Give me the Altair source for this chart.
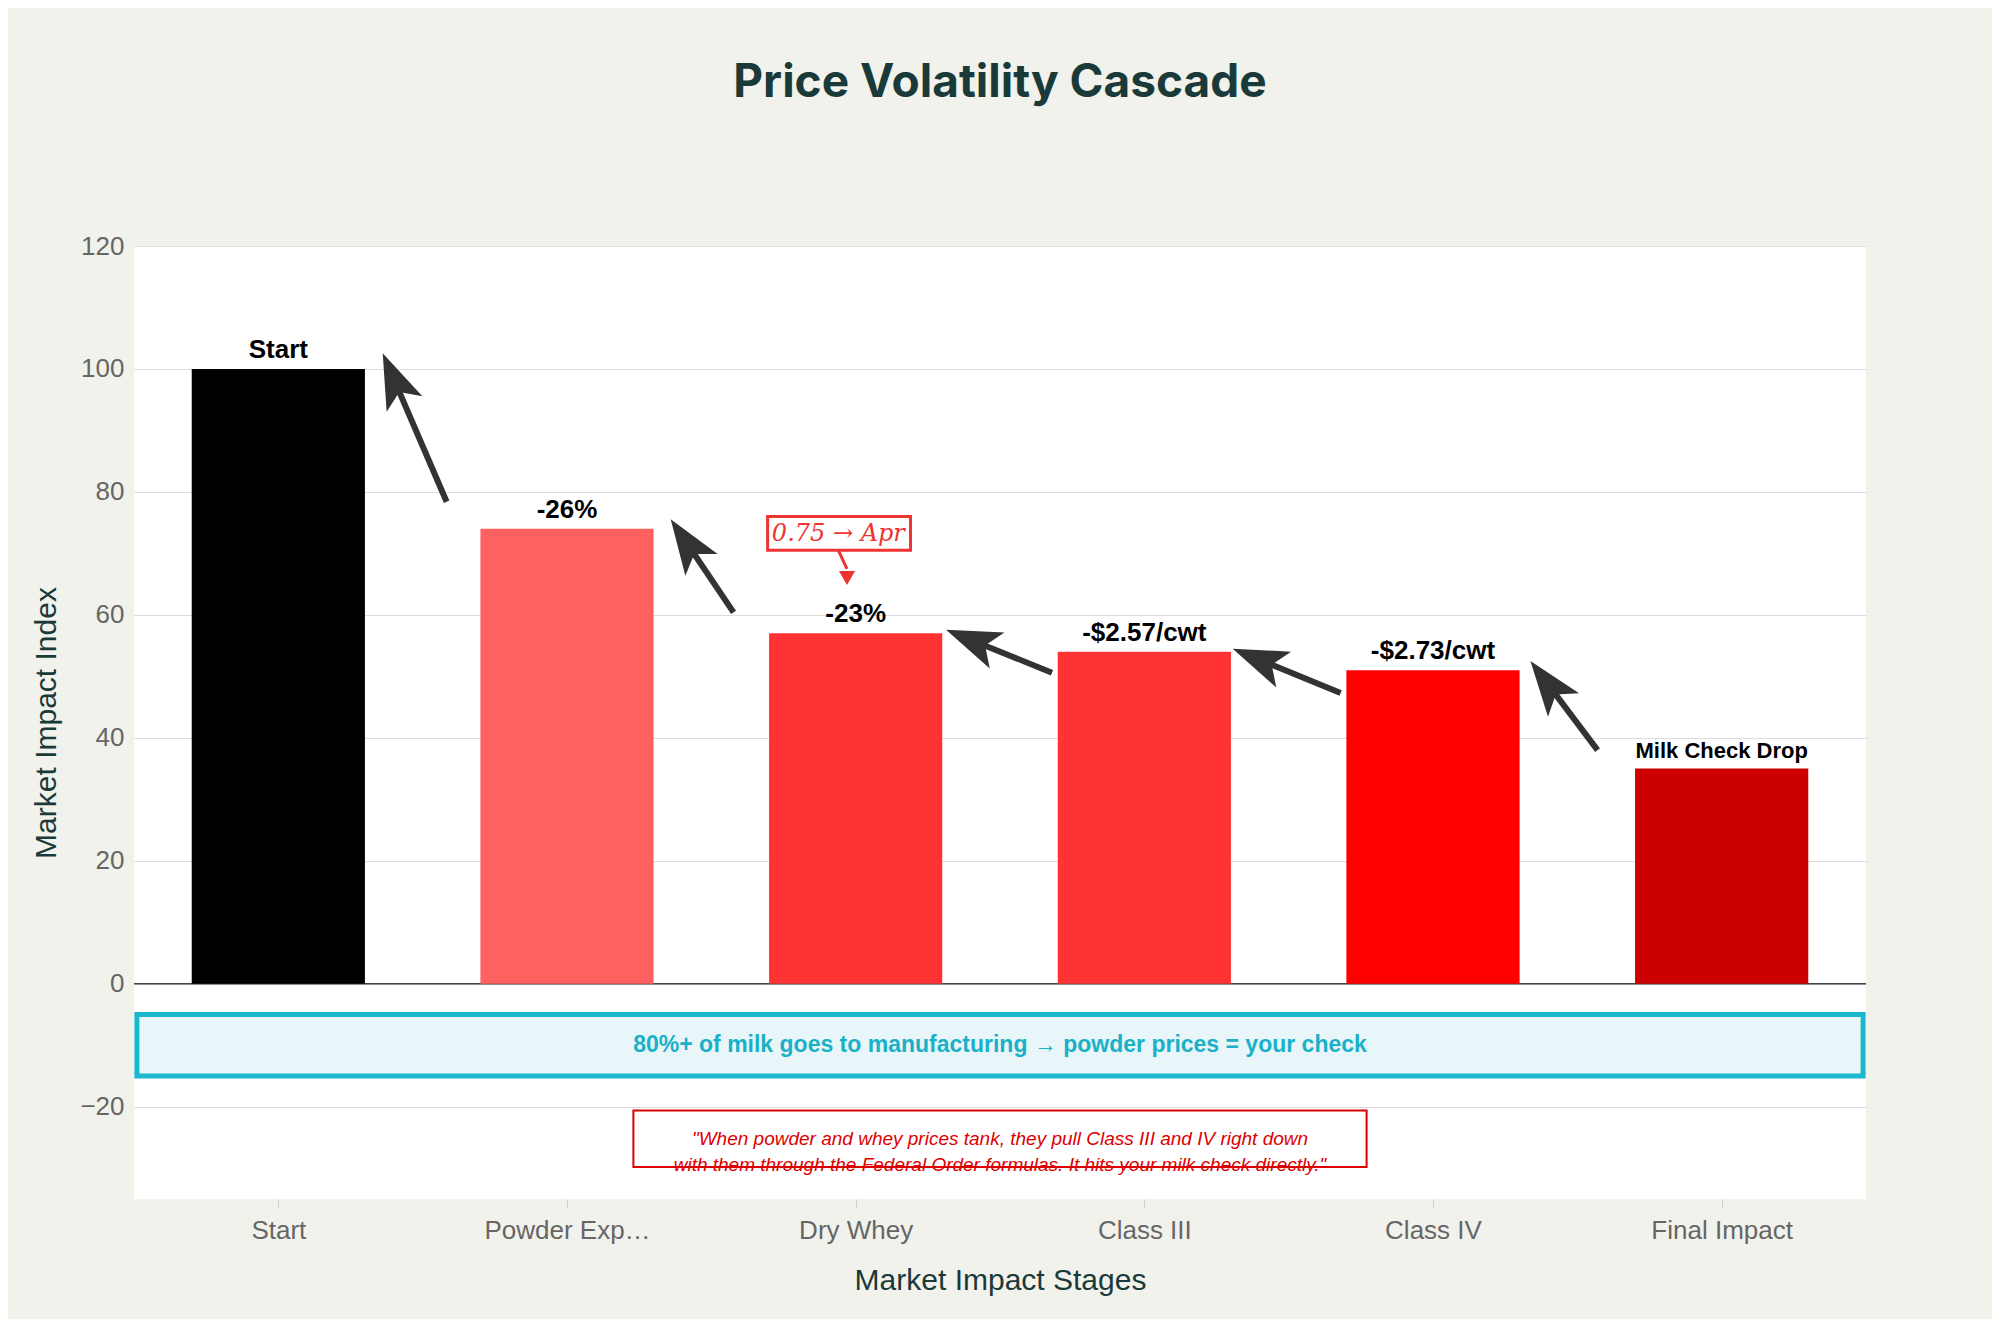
import altair as alt
import pandas as pd
import math

stages = ["Start", "Powder Exports", "Dry Whey", "Class III", "Class IV", "Final Impact"]
values = [100, 74, 57, 54, 51, 35]
labels = ["Start", "-26%", "-23%", "-$2.57/cwt", "-$2.73/cwt", "Milk Check Drop"]
colors = ["#000000", "#ff6060", "#ff3333", "#ff3333", "#ff0000", "#cc0000"]
# arrows: (head_x, head_y, tail_x, tail_y) in data units (x = stage index + 0.5)
arrows = [(0.906, 97.7, 1.083, 78.4), (1.922, 71.2, 2.077, 60.4), (2.917, 55.6, 3.18, 50.6),
          (3.91, 52.5, 4.18, 47.3), (4.905, 48.3, 5.07, 38.0)]

W, H = 1732, 953
YMIN, YMAX = -35, 120
def px(x): return x / 6 * W
def py(y): return (YMAX - y) / (YMAX - YMIN) * H

xs = alt.Scale(domain=[0, 6], nice=False, zero=False)
ys = alt.Scale(domain=[YMIN, YMAX], nice=False, zero=False)

bars = pd.DataFrame({"stage": stages, "value": values, "label": labels, "color": colors,
                     "pos": [i + 0.5 for i in range(6)]})
bars["x0"] = bars.pos - 0.3
bars["x1"] = bars.pos + 0.3
bars["fs"] = [26] * 5 + [22]

label_expr = "{0.5:'Start',1.5:'Powder Exports',2.5:'Dry Whey',3.5:'Class III',4.5:'Class IV',5.5:'Final Impact'}[datum.value]"
axis_x = alt.Axis(values=[0.5, 1.5, 2.5, 3.5, 4.5, 5.5], labelExpr=label_expr, grid=False, domain=False,
                  tickColor="#cccccc", tickSize=8, labelFontSize=26, labelColor="#666666", labelPadding=10,
                  title="Market Impact Stages", titleFontSize=30, titleFontWeight="normal",
                  titleColor="#1a3a3a", titlePadding=22)
axis_y = alt.Axis(values=list(range(-20, 121, 20)), gridColor="#dddddd", domain=False, ticks=False,
                  labelFontSize=26, labelColor="#666666", labelPadding=10, title="Market Impact Index",
                  titleFontSize=30, titleFontWeight="normal", titleColor="#1a3a3a", titlePadding=18)

base = alt.Chart(bars)
bar = base.mark_rect().encode(
    x=alt.X("x0:Q", scale=xs, axis=axis_x), x2="x1:Q",
    y=alt.Y("value:Q", scale=ys, axis=axis_y), y2=alt.datum(0),
    color=alt.Color("color:N", scale=None))
zero = alt.Chart(pd.DataFrame({"y": [0]})).mark_rule(color="#444444", strokeWidth=1.5).encode(
    y=alt.Y("y:Q", scale=ys))
txt = base.mark_text(baseline="bottom", dy=-6, fontWeight="bold", font="Liberation Sans").encode(
    x=alt.X("pos:Q", scale=xs), y=alt.Y("value:Q", scale=ys), text="label:N",
    size=alt.Size("fs:Q", scale=None))

ar = pd.DataFrame(arrows, columns=["hx", "hy", "tx", "ty"])
ar["ang"] = [(math.degrees(math.atan2(px(h) - px(t), py(ty_) - py(hy_))) + 360) % 360
             for h, hy_, t, ty_ in zip(ar.hx, ar.hy, ar.tx, ar.ty)]
shafts = alt.Chart(ar).mark_rule(color="#333333", strokeWidth=6).encode(
    x=alt.X("tx:Q", scale=xs), x2="hx:Q", y=alt.Y("ty:Q", scale=ys), y2="hy:Q")
heads = alt.Chart(ar).mark_point(shape="M0,-1L0.6,0.7L0,0.3L-0.6,0.7Z", filled=True, opacity=1,
                                 color="#333333", size=4200).encode(
    x=alt.X("hx:Q", scale=xs), y=alt.Y("hy:Q", scale=ys), angle=alt.Angle("ang:Q", scale=None))

box = alt.Chart(pd.DataFrame({"a": [0.01], "b": [5.99], "y1": [-5], "y2": [-15]})).mark_rect(
    fill="#e8f6fa", stroke="#1ab8cc", strokeWidth=5).encode(
    x=alt.X("a:Q", scale=xs), x2="b:Q", y=alt.Y("y1:Q", scale=ys), y2="y2:Q")
boxtxt = alt.Chart(pd.DataFrame({"x": [3], "y": [-10], "t": ["80%+ of milk goes to manufacturing → powder prices = your check"]})).mark_text(
    color="#1ab0c8", fontSize=23, fontWeight="bold").encode(
    x=alt.X("x:Q", scale=xs), y=alt.Y("y:Q", scale=ys), text="t:N")

qbox = alt.Chart(pd.DataFrame({"a": [1.73], "b": [4.27], "y1": [-20.6], "y2": [-29.8]})).mark_rect(
    fill="white", stroke="#dd0000", strokeWidth=2).encode(
    x=alt.X("a:Q", scale=xs), x2="b:Q", y=alt.Y("y1:Q", scale=ys), y2="y2:Q")
qtxt = alt.Chart(pd.DataFrame({"x": [3], "y": [-25.2],
                               "t": [["\"When powder and whey prices tank, they pull Class III and IV right down",
                                      "with them through the Federal Order formulas. It hits your milk check directly.\""]]})).mark_text(
    color="#dd0000", fontSize=19, fontStyle="italic", lineHeight=26).encode(
    x=alt.X("x:Q", scale=xs), y=alt.Y("y:Q", scale=ys), text="t:N")

abox = alt.Chart(pd.DataFrame({"a": [2.195], "b": [2.69], "y1": [76.0], "y2": [70.5]})).mark_rect(
    fill="white", stroke="#ee3333", strokeWidth=3).encode(
    x=alt.X("a:Q", scale=xs), x2="b:Q", y=alt.Y("y1:Q", scale=ys), y2="y2:Q")
atxt = alt.Chart(pd.DataFrame({"x": [2.44], "y": [73.2], "t": ["0.75 → Apr"]})).mark_text(
    color="#ee3333", fontSize=24, font="DejaVu Serif", fontStyle="italic").encode(
    x=alt.X("x:Q", scale=xs), y=alt.Y("y:Q", scale=ys), text="t:N")
ashaft = alt.Chart(pd.DataFrame({"x": [2.44], "x2": [2.47], "y": [70.5], "y2": [67.5]})).mark_rule(
    color="#ee3333", strokeWidth=3).encode(x=alt.X("x:Q", scale=xs), x2="x2:Q", y=alt.Y("y:Q", scale=ys), y2="y2:Q")
ahead = alt.Chart(pd.DataFrame({"x": [2.47], "y": [66.0]})).mark_point(
    shape="triangle-down", filled=True, opacity=1, color="#ee3333", size=260).encode(
    x=alt.X("x:Q", scale=xs), y=alt.Y("y:Q", scale=ys))

title = alt.Chart(pd.DataFrame({"t": ["Price Volatility Cascade"]})).mark_text(
    fontSize=46, fontWeight="bold", color="#1a3a3a", font="Inter").encode(
    x=alt.value(W / 2), y=alt.value(-163), text="t:N")

chart = alt.layer(zero, bar, txt, shafts, heads, box, boxtxt, qbox, qtxt, abox, atxt, ashaft, ahead, title).properties(
    width=W, height=H, autosize=alt.AutoSizeParams(type="none"),
    padding={"left": 126, "top": 238, "right": 126, "bottom": 120},
    background="#f2f2ec"
).configure_view(fill="white", stroke=None).configure_axis(labelFont="Liberation Sans", titleFont="Liberation Sans")

chart.save("out.html", embed_options={"renderer": "svg", "actions": False})
